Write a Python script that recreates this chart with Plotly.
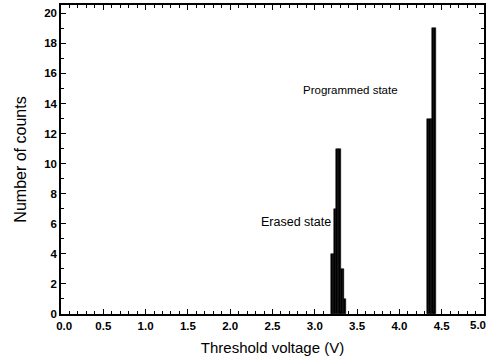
import plotly.graph_objects as go

# Data (bin centers in V, counts)
erased_v = [3.20, 3.22, 3.24, 3.26, 3.28, 3.30, 3.32, 3.34, 3.36]
erased_n = [4, 4, 7, 11, 11, 11, 3, 3, 1]
prog_v = [4.34, 4.36, 4.38, 4.40, 4.42]
prog_n = [13, 13, 13, 19, 19]
bin_width = 0.02

x_ticks = [0.0, 0.5, 1.0, 1.5, 2.0, 2.5, 3.0, 3.5, 4.0, 4.5, 5.0]
x_labels = ["\u00a0\u00a00.0", "0.5", "1.0", "1.5", "2.0", "2.5", "3.0", "3.5", "4.0", "4.5", ""]
last_x_label = "5.0"  # drawn as an annotation so it stays inside the page
y_ticks = [0, 2, 4, 6, 8, 10, 12, 14, 16, 18, 20]

FONT = "Arial, Liberation Sans, sans-serif"
TICKFONT = dict(family=FONT, size=11.5, color="black", weight="bold")

fig = go.Figure()
for xs, ys in [(erased_v, erased_n), (prog_v, prog_n)]:
    fig.add_trace(go.Bar(x=xs, y=ys, width=[bin_width] * len(xs),
                         marker=dict(color="black", line=dict(width=0.5, color="black")),
                         showlegend=False))

axis_common = dict(showline=True, linecolor="black", linewidth=1.5, mirror="ticks",
                   ticks="inside", tickcolor="black", tickwidth=1.2, ticklen=5,
                   showgrid=False, zeroline=False, automargin=False,
                   ticklabeloverflow="allow", tickfont=TICKFONT)

fig.update_layout(
    width=486, height=362, autosize=False,
    margin=dict(l=61, r=2, t=5, b=48),
    paper_bgcolor="white", plot_bgcolor="white",
    bargap=0,
    xaxis=dict(range=[0, 5], tickvals=x_ticks, ticktext=x_labels,
               minor=dict(dtick=0.1, ticks="inside", ticklen=3, tickcolor="black", tickwidth=1),
               title=dict(text="Threshold voltage (V)", font=dict(family=FONT, size=15, color="black"),
                          standoff=12),
               **axis_common),
    yaxis=dict(range=[0, 20.55], tickvals=y_ticks,
               minor=dict(dtick=1, ticks="inside", ticklen=3, tickcolor="black", tickwidth=1),
               title=dict(text="Number of counts", font=dict(family=FONT, size=16, color="black"),
                          standoff=14),
               **axis_common),
    annotations=[
        dict(x=4.01, y=14.9, text="Programmed state", showarrow=False, xanchor="right",
             font=dict(family=FONT, size=11.5, color="black")),
        dict(x=3.21, y=6.1, text="Erased state", showarrow=False, xanchor="right",
             font=dict(family=FONT, size=12.5, color="black")),
        dict(x=x_ticks[-1], xref="x", y=0, yref="paper", text=last_x_label, showarrow=False,
             xanchor="right", yanchor="top", xshift=4, yshift=-3, font=TICKFONT),
    ],
)

fig.write_html("out.html", config={"responsive": False})
